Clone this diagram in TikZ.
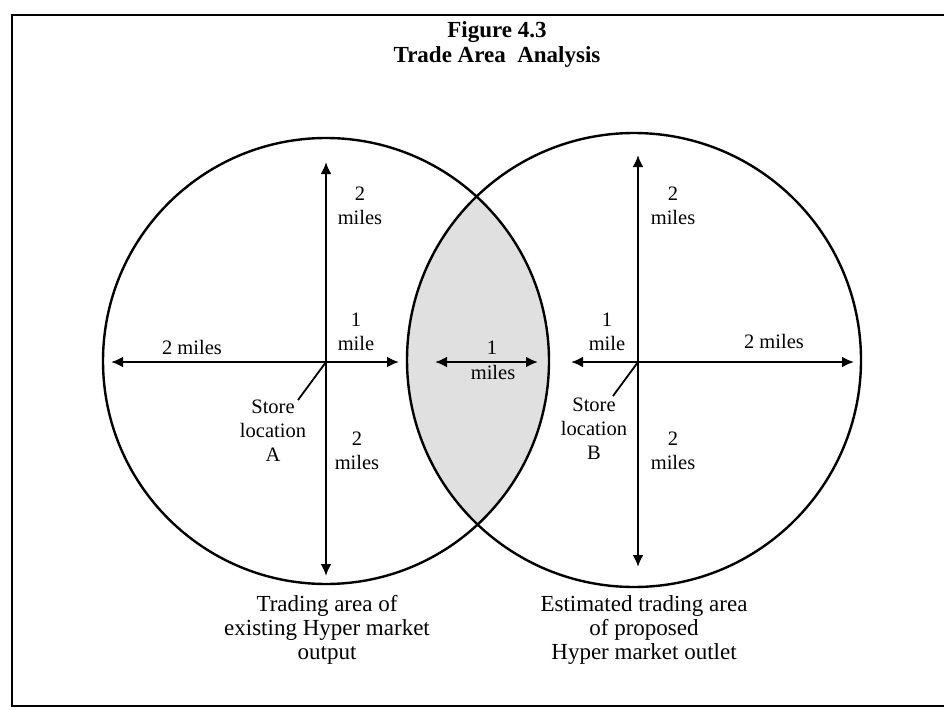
\documentclass[tikz,border=0pt]{standalone}
\usepackage{fontspec}
\setmainfont{Liberation Serif}
\usetikzlibrary{arrows.meta, positioning}
\tikzset{
	area/.style     ={line width=2.4pt, draw=black},
	lens/.style     ={fill=black!12},
	span/.style     ={{Latex[length=12pt, width=11pt]}-{Latex[length=12pt, width=11pt]}, line width=2.8pt},
	pointer/.style  ={line width=1.8pt},
	border/.style   ={line width=2.2pt},
	% text styles
	lbl/.style      ={font=\fontsize{20.5}{24}\selectfont, align=center, inner sep=0pt},
	capt/.style     ={font=\fontsize{23}{24}\selectfont, align=center, inner sep=0pt},
	ttl/.style      ={font=\bfseries\fontsize{23}{25}\selectfont, align=center, inner sep=0pt},
}

\begin{document}
\begin{tikzpicture}[x=1pt, y=-1pt]
	\useasboundingbox (0,0) rectangle (944,709);
	% page frame, open on the right
	\draw[border] (944,15) -- (12,15) -- (12,706) -- (944,706);
	\node[ttl] (title) at (497,45) {Figure 4.3\\Trade Area\ \ Analysis};
	% store centres
	\coordinate (A) at (326,362);
	\coordinate (B) at (638,362);
	% overlap of the two trading areas
	\begin{scope}
		\clip (326,361) circle[radius=223pt];
		\fill[lens] (634,360) circle[radius=227pt];
	\end{scope}
	\draw[area] (326,361) circle[radius=223pt];
	\draw[area] (634,360) circle[radius=227pt];
	% distances from store A
	\coordinate (An) at (326,162);
	\coordinate (As) at (326,576);
	\coordinate (Aw) at (111,362);
	\coordinate (Ae) at (399,362);
	\draw[span] (An) -- (As);
	\draw[span] (Aw) -- (Ae);
	% distances from store B
	\coordinate (Bn) at (638,155);
	\coordinate (Bs) at (638,567);
	\coordinate (Bw) at (571,362);
	\coordinate (Be) at (854,362);
	\draw[span] (Bn) -- (Bs);
	\draw[span] (Bw) -- (Be);
	% overlap width
	\coordinate (Mw) at (435,362);
	\coordinate (Me) at (538,362);
	\draw[span] (Mw) -- (Me);
	% labels round store A
	\node[lbl] (aN) at (360,206) {2\\miles};
	\node[lbl] (aE) at (356,332) {1\\mile};
	\node[lbl] (aW) at (192,347) {2 miles};
	\node[lbl] (aS) at (357,451) {2\\miles};
	\node[lbl] (storeA) at (273,431) {Store\\location\\A};
	\draw[pointer] ([shift={(25,0)}]storeA.north) coordinate (pA) -- (A);
	% labels round store B
	\node[lbl] (bN) at (673,206) {2\\miles};
	\node[lbl] (bW) at (607,332) {1\\mile};
	\node[lbl] (bE) at (774,341) {2 miles};
	\node[lbl] (bS) at (673,451) {2\\miles};
	\node[lbl] (storeB) at (594,429) {Store\\location\\B};
	\draw[pointer] ([shift={(19,-2)}]storeB.north) coordinate (pB) -- (B);
	% label of the overlap
	\node[lbl] (m1) at (492,348) {1};
	\node[lbl] (m2) at (493,372) {miles};
	% captions
	\node[capt] (captA) at (327,630) {Trading area of\\existing Hyper market\\output};
	\node[capt] (captB) at (644,630) {Estimated trading area\\of proposed\\Hyper market outlet};
\end{tikzpicture}
\end{document}
